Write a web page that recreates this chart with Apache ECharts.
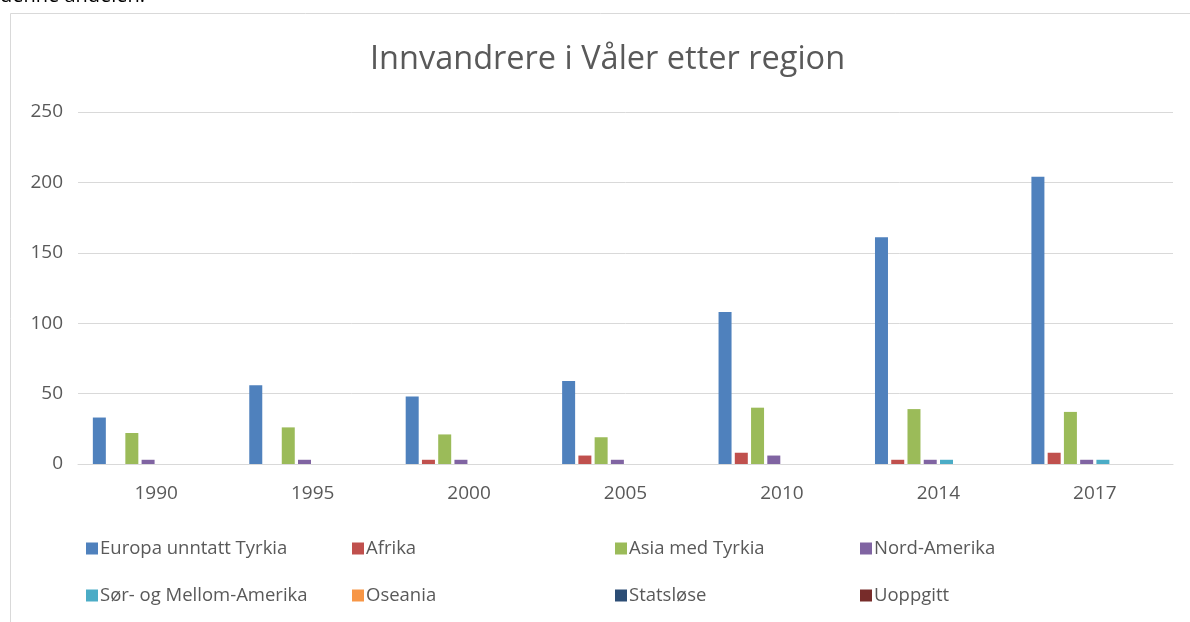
<!DOCTYPE html>
<html>
<head>
<meta charset="utf-8">
<script src="https://cdn.jsdelivr.net/npm/echarts@6/dist/echarts.min.js"></script>
<style>
  html, body { margin: 0; padding: 0; background: #fff; }
  #chart { width: 1190px; height: 622px; }
</style>
</head>
<body>
<div id="chart"></div>
<script>
// kategorier (år)
const years = ["1990", "1995", "2000", "2005", "2010", "2014", "2017"];

// verdier per region
const europa = [33, 56, 48, 59, 108, 161, 204];
const afrika = [0, 0, 3, 6, 8, 3, 8];
const asia = [22, 26, 21, 19, 40, 39, 37];
const nordAmerika = [3, 3, 3, 3, 6, 3, 3];
const sorMellomAmerika = [0, 0, 0, 0, 0, 3, 3];
const oseania = [0, 0, 0, 0, 0, 0, 0];
const statslose = [0, 0, 0, 0, 0, 0, 0];
const uoppgitt = [0, 0, 0, 0, 0, 0, 0];

const seriesNames = [
  "Europa unntatt Tyrkia", "Afrika", "Asia med Tyrkia", "Nord-Amerika",
  "Sør- og Mellom-Amerika", "Oseania", "Statsløse", "Uoppgitt"
];
const seriesValues = [europa, afrika, asia, nordAmerika, sorMellomAmerika, oseania, statslose, uoppgitt];
const colors = ["#4f81bd", "#c0504d", "#9bbb59", "#8064a2", "#4bacc6", "#f79646", "#2c4d75", "#772c2a"];

const font = "'Open Sans', 'Noto Sans', sans-serif";
const textColor = "#595959";

const chart = echarts.init(document.getElementById("chart"));

// legend: 4 kolonner, 2 rader
const legendCols = [86, 352, 615, 860];
const legends = legendCols.map((x, i) => ({
  left: x - 5,
  top: 534,
  orient: "vertical",
  itemWidth: 12,
  itemHeight: 12,
  itemGap: 28,
  icon: "rect",
  selectedMode: false,
  itemStyle: { borderWidth: 0 },
  textStyle: { fontFamily: font, fontSize: 18.5, color: textColor, padding: [0, 0, 0, -3] },
  data: [seriesNames[i], seriesNames[i + 4]]
}));

const option = {
  animation: false,
  backgroundColor: "#fff",
  title: {
    text: "Innvandrere i Våler etter region",
    left: 365,
    top: 38,
    textStyle: { fontFamily: font, fontSize: 32.5, fontWeight: "normal", color: textColor }
  },
  legend: legends,
  grid: { left: 78, right: 17, top: 112, bottom: 158 },
  xAxis: {
    type: "category",
    data: years,
    axisTick: { show: false },
    axisLine: { lineStyle: { color: "#d9d9d9", width: 1 } },
    axisLabel: { fontFamily: font, fontSize: 19, color: textColor, margin: 20 }
  },
  yAxis: {
    type: "value",
    min: 0,
    max: 250,
    interval: 50,
    axisLine: { show: false },
    axisTick: { show: false },
    axisLabel: { fontFamily: font, fontSize: 19, color: textColor, margin: 15 },
    splitLine: { lineStyle: { color: "#d9d9d9", width: 1 } }
  },
  series: seriesNames.map((name, i) => ({
    name: name,
    type: "bar",
    data: seriesValues[i],
    barWidth: 13,
    barGap: "25%",
    itemStyle: { color: colors[i], borderWidth: 0 }
  })),
  graphic: [
    {
      type: "rect",
      shape: { x: 10.5, y: 13.5, width: 1300, height: 700 },
      style: { fill: "none", stroke: "#d9d9d9", lineWidth: 1 },
      silent: true
    },
    {
      type: "text",
      left: 0,
      top: -14,
      style: { text: "denne andelen.", fontFamily: font, fontSize: 20, fill: "#000" },
      silent: true
    }
  ]
};

chart.setOption(option);
</script>
</body>
</html>
